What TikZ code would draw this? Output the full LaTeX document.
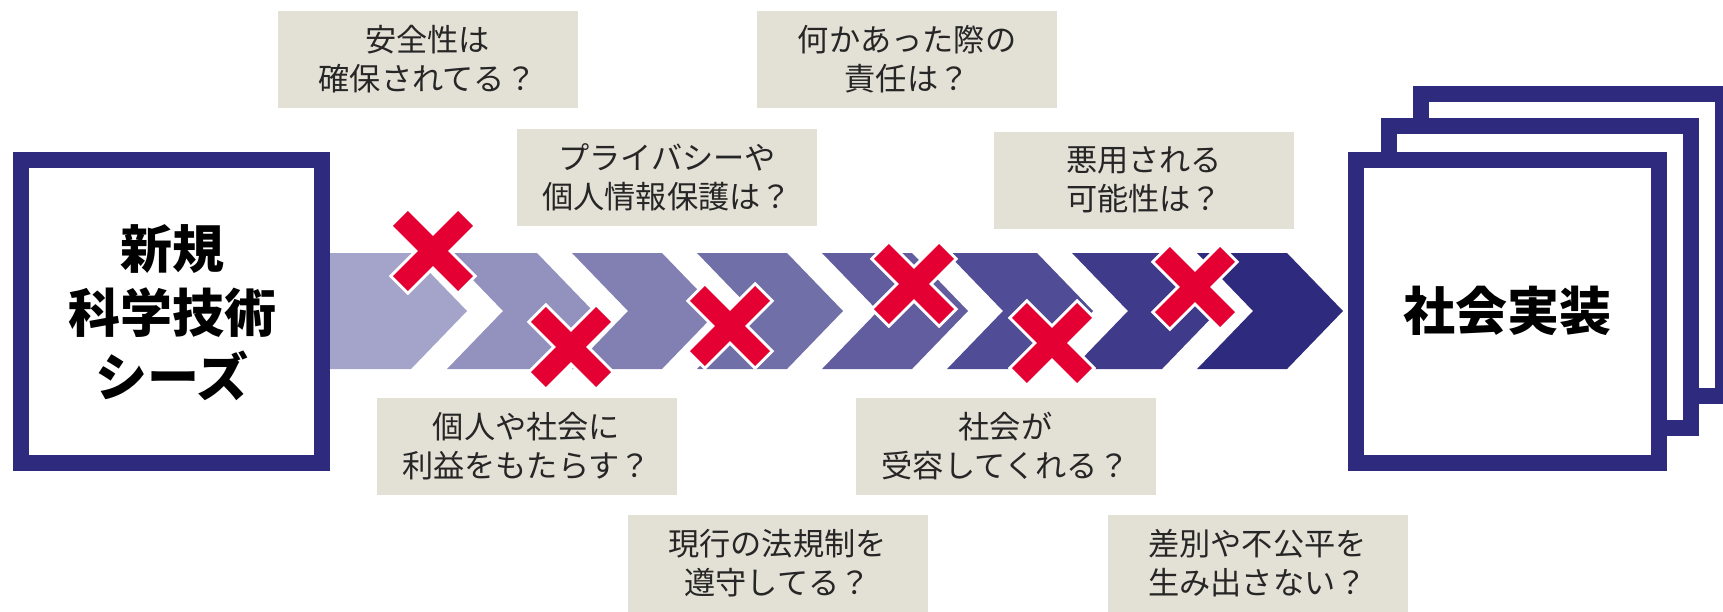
\documentclass[tikz,border=0pt]{standalone}
\usepackage{fontspec}
\newfontfamily\jp{Noto Sans CJK JP}
\definecolor{navy}{HTML}{2E2A7E}
\definecolor{cA}{HTML}{A4A3C9}
\definecolor{cB}{HTML}{9391BE}
\definecolor{cC}{HTML}{8280B3}
\definecolor{cD}{HTML}{716FA8}
\definecolor{cE}{HTML}{615D9F}
\definecolor{cF}{HTML}{504C95}
\definecolor{cG}{HTML}{3F3A8A}
\definecolor{cH}{HTML}{2E2A7E}
\definecolor{xred}{HTML}{E50033}
\definecolor{qfill}{HTML}{E3E1D6}
\definecolor{qtext}{HTML}{262626}
\tikzset{
  qbox/.style={fill=qfill, minimum width=150pt, minimum height=48.5pt, inner sep=0pt,
    align=center, text=qtext, font=\jp\fontsize{15.6pt}{19.5pt}\selectfont},
  bigbox/.style={draw=navy, line width=8pt, fill=white},
  bigtext/.style={align=center, text=black, font=\jp\bfseries\fontsize{26pt}{32pt}\selectfont},
  xmark/.pic={
    \foreach \a in {45,-45} \draw[white, line width=3pt, rotate=\a] (-46,-10.5) rectangle (46,10.5);
    \foreach \a in {45,-45} \fill[xred, rotate=\a] (-46,-10.5) rectangle (46,10.5);
  }
}
\begin{document}
\begin{tikzpicture}[x=0.5pt,y=-0.5pt]
\path[use as bounding box] (0,0) rectangle (1723,611);
\begin{scope}
\clip (0,0) rectangle (1723,611);
% chevron band
\fill[cA] (320,253) -- (411,253) -- (467,311) -- (411,369) -- (320,369) -- cycle;
\foreach \k/\c in {2/cB,3/cC,4/cD,5/cE,6/cF,7/cG,8/cH}{
  \pgfmathsetmacro{\xl}{322+125*(\k-1)}
  \pgfmathsetmacro{\xr}{\xl+90}
  \fill[\c] (\xl,253) -- (\xr,253) -- ({\xr+56},311) -- (\xr,369) -- (\xl,369) -- ({\xl+56},311) -- cycle;
}
% left box
\draw[bigbox] (21,160) rectangle (322,463);
\node[bigtext] (seeds) at (172,313) {新規\\科学技術\\シーズ};
% right stacked boxes
\draw[bigbox] (1421,94) rectangle (1723,396);
\draw[bigbox] (1389,126) rectangle (1691,428);
\draw[bigbox] (1356,160) rectangle (1659,463);
\node[bigtext] (impl) at (1507,311) {社会実装};
% question boxes
\node[qbox] (q1) at (427.5,59) {安全性は\\確保されてる？};
\node[qbox] (q2) at (907,59) {何かあった際の\\責任は？};
\node[qbox] (q3) at (667,177.5) {プライバシーや\\個人情報保護は？};
\node[qbox] (q4) at (1144,180) {悪用される\\可能性は？};
\node[qbox] (q5) at (526.5,446.5) {個人や社会に\\利益をもたらす？};
\node[qbox] (q6) at (1005.5,446.5) {社会が\\受容してくれる？};
\node[qbox] (q7) at (777.5,563) {現行の法規制を\\遵守してる？};
\node[qbox] (q8) at (1257.5,563) {差別や不公平を\\生み出さない？};
% crosses
\pic at (433,251) {xmark};
\pic at (571,347) {xmark};
\pic at (730,326) {xmark};
\pic at (914,284) {xmark};
\pic at (1052,343) {xmark};
\pic at (1195,287) {xmark};
\end{scope}
\end{tikzpicture}
\end{document}
